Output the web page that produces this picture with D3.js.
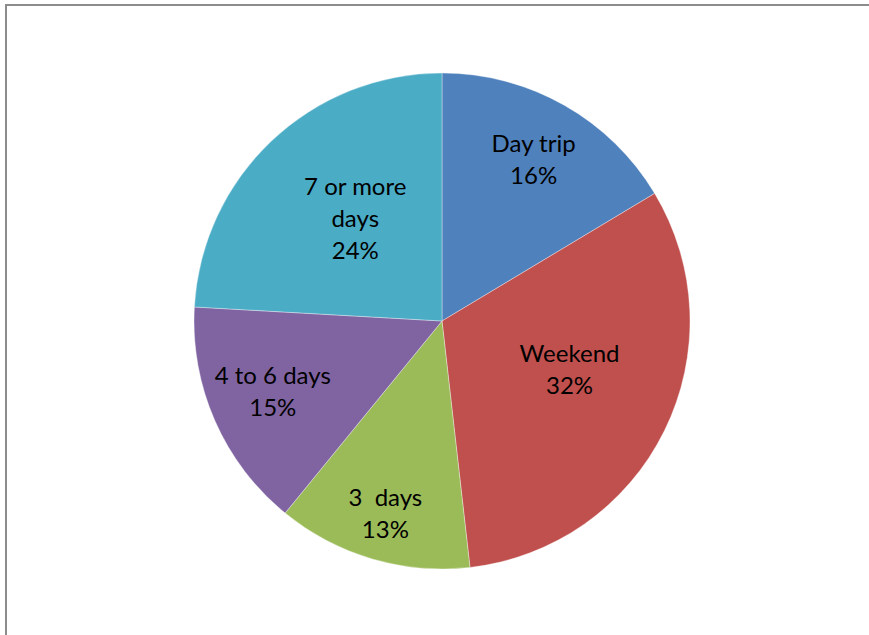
<!DOCTYPE html>
<html>
<head>
<meta charset="utf-8">
<script src="https://cdn.jsdelivr.net/npm/d3@7"></script>
<style>
  body { margin: 0; background: #fff; }
  svg { display: block; }
</style>
</head>
<body>
<svg id="chart" width="869" height="635"></svg>
<script>
const categories = ["Day trip", "Weekend", "3  days", "4 to 6 days", "7 or more days"];
const labelLines = [["Day trip"], ["Weekend"], ["3  days"], ["4 to 6 days"], ["7 or more", "days"]];
const values = [16.4, 31.8, 12.7, 15.0, 24.1];
const colors = ["#4F81BD", "#C0504D", "#9BBB59", "#8064A2", "#4BACC6"];

// label placement (Excel "best fit"): fraction of radius, angle nudge in degrees
const labelRadius = [0.75, 0.55, 0.81, 0.74, 0.54];
const labelNudge = [0, -5.5, 0, 1, 3];

const width = 869, height = 635;
const cx = 442, cy = 321, radius = 248;

const svg = d3.select("#chart");

// chart area border (left + top only visible)
svg.append("path")
    .attr("d", `M6,635 V5 H869`)
    .attr("fill", "none")
    .attr("stroke", "#8c8c8c")
    .attr("stroke-width", 2);

const pie = d3.pie().sort(null).value((d) => d.value);
const arc = d3.arc().innerRadius(0).outerRadius(radius);

const data = categories.map((c, i) => ({
    name: c, value: values[i], lines: labelLines[i], color: colors[i],
    lr: labelRadius[i], nudge: labelNudge[i]
}));
const arcs = pie(data);

const g = svg.append("g").attr("transform", `translate(${cx},${cy})`);

g.selectAll("path.slice")
    .data(arcs)
    .enter()
    .append("path")
    .attr("class", "slice")
    .attr("d", arc)
    .attr("fill", (d) => d.data.color)
    .attr("stroke", "rgba(255,255,255,0.35)")
    .attr("stroke-width", 1);

const lineH = 32;
const labels = g.selectAll("text.label")
    .data(arcs)
    .enter()
    .append("text")
    .attr("class", "label")
    .attr("text-anchor", "middle")
    .attr("font-family", "Lato, 'Open Sans', sans-serif")
    .attr("font-size", 24)
    .attr("fill", "#000")
    .attr("transform", (d) => {
        const r = radius * d.data.lr;
        const a = (d.startAngle + d.endAngle) / 2 + d.data.nudge * Math.PI / 180;
        return `translate(${r * Math.sin(a)},${-r * Math.cos(a)})`;
    });

labels.each(function (d) {
    const t = d3.select(this);
    const lines = d.data.lines.concat([Math.round(d.data.value) + "%"]);
    const top = -(lines.length - 1) * lineH / 2;
    lines.forEach((l, i) => {
        t.append("tspan")
            .attr("x", 0)
            .attr("y", top + i * lineH)
            .attr("dy", "0.35em")
            .attr("xml:space", "preserve")
            .style("white-space", "pre")
            .text(l);
    });
});
</script>
</body>
</html>
